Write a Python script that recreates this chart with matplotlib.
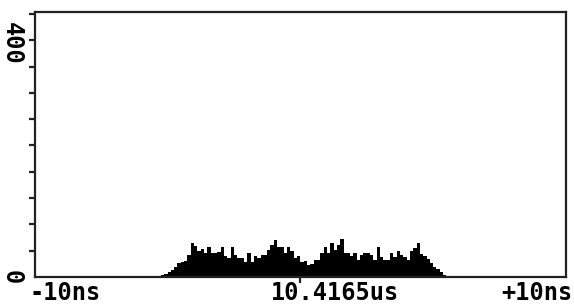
import numpy as np
import matplotlib
matplotlib.use("Agg")
import matplotlib.pyplot as plt

# Histogram data (time offset in ns relative to 10.4165us, counts per bin)
bin_start_ns = -5.25
bin_width_ns = 0.125
counts = [3, 5, 9, 12, 17, 24, 26, 27, 38, 58,
          53, 44, 48, 41, 51, 41, 41, 43, 51, 36,
          33, 51, 38, 33, 33, 26, 41, 26, 36, 33,
          38, 38, 46, 55, 63, 51, 51, 41, 51, 44,
          33, 36, 26, 27, 21, 22, 29, 29, 41, 51,
          41, 58, 46, 55, 65, 41, 41, 36, 41, 29,
          38, 41, 41, 38, 29, 51, 34, 29, 29, 41,
          34, 44, 38, 34, 29, 44, 50, 58, 39, 36,
          31, 24, 17, 14, 9, 3]

x_range_ns = [-10, 10]
x_labels = ["-10ns", "10.4165us", "+10ns"]
y_tick_values = [0, 400]
y_tick_labels = ["0", "400"]
y_minor_step = 45
y_max = 453.4

edges = bin_start_ns + bin_width_ns * np.arange(len(counts) + 1)

fig = plt.figure(figsize=(5.74, 3.06), dpi=100)
ax = fig.add_axes([34.7 / 574, 29 / 306, (566 - 34.7) / 574, (277 - 12) / 306])

ax.stairs(counts, edges, fill=True, color="black", linewidth=0)

ax.set_xlim(*x_range_ns)
ax.set_ylim(0, y_max)

for s in ax.spines.values():
    s.set_linewidth(1.6)
    s.set_color("#222222")

font = dict(family="DejaVu Sans Mono", weight="bold", size=17)

# x axis: single centre tick, labels as texts
ax.set_xticks([0])
ax.set_xticklabels([""])
ax.tick_params(axis="x", direction="out", length=4.5, width=1.6, color="#222222")

trans = ax.get_xaxis_transform()
ax.text(-0.01, -0.015, x_labels[0], transform=ax.transAxes, ha="left", va="top",
        fontdict=font, clip_on=False)
ax.text(x_range_ns[0] + (335 - 34.7) / (566 - 34.7) * 20, -0.015, x_labels[1],
        transform=trans, ha="center", va="top", fontdict=font, clip_on=False)
ax.text(1.0 + 6 / 531, -0.015, x_labels[2], transform=ax.transAxes, ha="right",
        va="top", fontdict=font, clip_on=False)

# y axis
ax.set_yticks(y_tick_values)
ax.set_yticklabels(y_tick_labels, rotation=-90, fontdict=font, va="center")
ax.tick_params(axis="y", which="major", length=0, pad=8)
ax.set_yticks(np.arange(0, y_max, y_minor_step), minor=True)
ax.tick_params(axis="y", which="minor", direction="out", length=4, width=1.6,
               color="#222222")

fig.savefig("out.png", dpi=100)
